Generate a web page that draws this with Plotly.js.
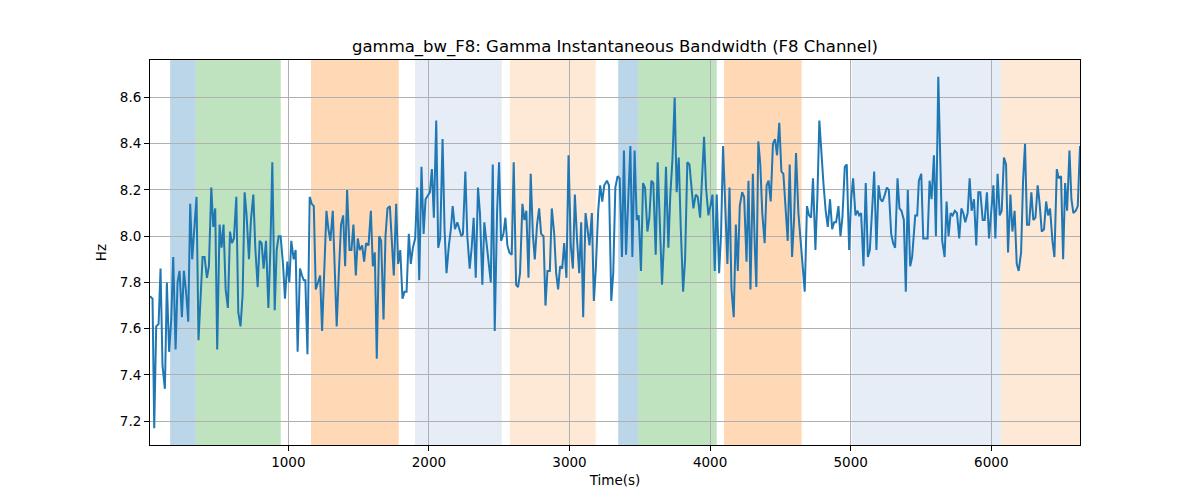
<!DOCTYPE html>
<html>
<head>
<meta charset="utf-8">
<script src="https://cdn.plot.ly/plotly-3.0.1.min.js"></script>
<style>
  body { margin: 0; background: #fff; }
  #chart { width: 1200px; height: 500px; }
</style>
</head>
<body>
<div id="chart"></div>
<script>
// sample times (s) and gamma bandwidth (Hz)
var times = [
  16, 34, 46, 60, 77, 91, 105, 122, 136, 152, 167, 181, 198, 212, 226, 243, 257, 274, 288, 302,
  316, 333, 347, 361, 376, 390, 404, 421, 435, 452, 466, 480, 494, 511, 525, 539, 554, 570, 585, 599,
  613, 630, 644, 660, 675, 689, 703, 720, 734, 751, 765, 782, 796, 810, 824, 841, 858, 872, 886, 903,
  917, 931, 945, 962, 976, 993, 1007, 1021, 1038, 1052, 1066, 1083, 1097, 1110, 1121, 1136, 1152, 1166, 1181, 1195,
  1211, 1226, 1240, 1257, 1271, 1285, 1299, 1316, 1330, 1344, 1359, 1375, 1390, 1404, 1418, 1435, 1449, 1463, 1480, 1494,
  1508, 1525, 1539, 1553, 1570, 1587, 1601, 1615, 1629, 1646, 1660, 1677, 1691, 1705, 1722, 1736, 1750, 1767, 1781, 1796,
  1812, 1826, 1841, 1857, 1871, 1886, 1902, 1917, 1931, 1947, 1962, 1976, 1993, 2007, 2021, 2035, 2052, 2066, 2080, 2097,
  2111, 2125, 2142, 2156, 2169, 2185, 2202, 2216, 2231, 2242, 2259, 2273, 2290, 2304, 2318, 2333, 2349, 2363, 2380, 2394,
  2409, 2425, 2440, 2454, 2468, 2485, 2499, 2513, 2530, 2544, 2558, 2572, 2589, 2603, 2620, 2634, 2648, 2665, 2679, 2693,
  2708, 2724, 2739, 2753, 2769, 2784, 2798, 2815, 2829, 2843, 2860, 2874, 2891, 2905, 2919, 2933, 2948, 2962, 2978, 2993,
  3009, 3024, 3038, 3054, 3069, 3083, 3097, 3114, 3128, 3142, 3159, 3173, 3187, 3204, 3218, 3233, 3247, 3266, 3281, 3297,
  3311, 3326, 3342, 3357, 3373, 3387, 3402, 3418, 3433, 3447, 3463, 3478, 3492, 3508, 3523, 3537, 3554, 3568, 3582, 3596,
  3613, 3627, 3641, 3658, 3672, 3686, 3703, 3717, 3732, 3748, 3762, 3777, 3791, 3808, 3822, 3838, 3853, 3867, 3881, 3898,
  3912, 3929, 3943, 3957, 3971, 3988, 4002, 4017, 4033, 4047, 4064, 4078, 4092, 4109, 4123, 4138, 4152, 4168, 4183, 4197,
  4211, 4228, 4242, 4259, 4273, 4287, 4304, 4318, 4329, 4343, 4357, 4371, 4388, 4402, 4416, 4431, 4447, 4462, 4476, 4492,
  4507, 4521, 4538, 4552, 4566, 4583, 4597, 4611, 4628, 4644, 4659, 4673, 4689, 4704, 4718, 4732, 4749, 4763, 4777, 4792,
  4806, 4822, 4837, 4853, 4868, 4882, 4896, 4913, 4927, 4941, 4958, 4972, 4989, 5003, 5017, 5034, 5048, 5060, 5074, 5091,
  5107, 5122, 5136, 5152, 5167, 5183, 5198, 5212, 5226, 5243, 5257, 5271, 5288, 5302, 5316, 5333, 5347, 5361, 5378, 5392,
  5406, 5423, 5437, 5459, 5473, 5485, 5502, 5516, 5530, 5547, 5561, 5575, 5592, 5606, 5623, 5637, 5651, 5668, 5682, 5696,
  5711, 5725, 5741, 5756, 5772, 5787, 5801, 5815, 5832, 5846, 5860, 5877, 5893, 5908, 5922, 5939, 5953, 5969, 5984, 6000,
  6015, 6029, 6045, 6060, 6074, 6090, 6105, 6119, 6136, 6150, 6166, 6181, 6195, 6212, 6226, 6240, 6254, 6269, 6285, 6299,
  6314, 6330, 6344, 6359, 6375, 6390, 6404, 6418, 6435, 6449, 6466, 6480, 6496, 6511, 6525, 6539, 6556, 6570, 6584, 6601,
  6615, 6631
];
var bandwidth = [
  7.74, 7.73, 7.17, 7.61, 7.62, 7.86, 7.44, 7.34, 7.80, 7.50, 7.64, 7.91, 7.51, 7.80, 7.85, 7.65, 7.85, 7.75, 7.63, 8.14,
  7.90, 8.03, 8.17, 7.55, 7.75, 7.91, 7.91, 7.82, 7.87, 8.21, 8.04, 8.12, 7.51, 8.05, 7.95, 8.05, 7.77, 7.69, 8.02, 7.97,
  7.99, 8.17, 7.67, 7.61, 7.75, 8.19, 8.09, 7.90, 8.07, 8.18, 7.95, 7.78, 7.98, 7.97, 7.86, 7.98, 7.69, 7.94, 8.32, 7.68,
  7.94, 8.00, 8.00, 7.88, 7.73, 7.89, 7.80, 7.98, 7.90, 7.94, 7.50, 7.86, 7.83, 7.81, 7.81, 7.49, 8.17, 8.14, 8.13, 7.77,
  7.80, 7.83, 7.59, 7.84, 8.11, 8.03, 7.98, 8.11, 7.84, 7.61, 7.84, 8.05, 8.09, 7.87, 8.20, 7.94, 7.94, 8.05, 7.83, 7.99,
  7.94, 7.96, 7.89, 7.97, 7.96, 8.11, 7.87, 7.93, 7.47, 8.00, 7.98, 7.64, 8.00, 8.12, 8.13, 8.00, 7.83, 8.14, 7.88, 7.94,
  7.73, 7.76, 7.76, 8.01, 7.88, 7.95, 7.99, 8.21, 7.81, 8.30, 8.01, 8.16, 8.18, 8.19, 8.29, 8.08, 8.50, 7.95, 7.99, 8.42,
  8.03, 7.84, 7.96, 8.03, 8.13, 8.03, 8.06, 8.03, 8.00, 8.01, 8.28, 8.00, 7.86, 7.95, 8.08, 7.82, 8.21, 8.10, 7.79, 8.06,
  7.98, 7.87, 7.80, 8.31, 7.59, 8.11, 8.32, 7.98, 8.01, 8.08, 7.96, 7.93, 7.92, 8.32, 7.79, 7.78, 7.84, 8.14, 8.07, 8.11,
  7.82, 8.27, 8.01, 7.90, 8.05, 8.12, 8.01, 8.00, 7.70, 7.85, 7.85, 8.12, 8.01, 7.84, 7.77, 7.87, 7.86, 7.97, 7.82, 8.35,
  7.96, 7.86, 8.18, 7.98, 7.84, 8.06, 7.65, 8.10, 8.03, 7.96, 8.10, 7.72, 7.86, 8.11, 8.22, 8.15, 8.22, 8.24, 8.22, 7.72,
  7.84, 8.21, 8.26, 8.25, 7.91, 8.37, 7.92, 8.21, 8.39, 7.91, 8.37, 8.07, 8.09, 7.85, 8.23, 8.21, 8.02, 8.08, 8.24, 8.23,
  7.92, 8.32, 8.11, 7.79, 7.98, 8.30, 7.95, 8.18, 8.33, 8.60, 8.19, 8.34, 8.04, 7.76, 7.90, 8.32, 8.31, 8.20, 8.12, 8.18,
  8.17, 8.08, 8.27, 8.43, 8.21, 8.09, 8.13, 8.18, 7.85, 8.18, 7.84, 8.01, 8.39, 8.08, 7.88, 8.21, 7.77, 7.65, 8.05, 7.85,
  8.13, 8.19, 8.17, 7.89, 8.24, 7.77, 8.27, 7.95, 7.78, 8.41, 8.31, 8.10, 7.97, 8.22, 8.24, 8.15, 8.40, 8.42, 8.35, 8.49,
  8.28, 8.27, 8.10, 7.98, 8.31, 7.91, 8.07, 8.36, 8.10, 7.98, 7.87, 7.76, 8.13, 8.09, 8.08, 8.25, 7.94, 8.17, 8.50, 8.34,
  8.23, 8.11, 8.04, 8.16, 8.03, 8.06, 8.06, 8.13, 8.00, 8.08, 8.30, 8.31, 7.94, 8.16, 8.25, 8.09, 8.11, 8.09, 8.10, 7.87,
  8.23, 7.91, 7.94, 8.11, 8.28, 7.94, 8.22, 8.16, 8.15, 8.18, 8.21, 8.20, 8.01, 7.97, 7.95, 8.25, 8.12, 8.11, 8.07, 7.76,
  8.20, 7.87, 7.91, 8.09, 8.09, 8.24, 8.27, 7.99, 7.99, 7.99, 8.24, 8.16, 8.35, 8.00, 8.69, 8.33, 7.98, 7.91, 8.15, 8.00,
  8.10, 8.09, 8.11, 8.10, 7.99, 8.12, 8.10, 8.06, 8.10, 8.25, 8.11, 8.16, 7.96, 8.19, 8.19, 8.07, 8.07, 8.19, 7.99, 8.11,
  8.22, 7.99, 8.27, 8.09, 8.11, 8.34, 8.31, 7.93, 8.18, 8.02, 8.11, 7.88, 7.85, 7.93, 8.24, 8.40, 8.05, 8.05, 8.19, 8.07,
  8.08, 8.22, 8.14, 8.02, 8.03, 8.15, 8.09, 8.12, 7.98, 7.91, 8.29, 8.25, 8.26, 7.90, 8.23, 8.11, 8.37, 8.16, 8.10, 8.11,
  8.13, 8.39
];

// shaded phases
var spanStart = [159, 341, 1161, 1901, 2576, 3346, 3489, 4099, 5007, 6071];
var spanEnd   = [341, 946, 1785, 2518, 3186, 3489, 4047, 4651, 6071, 6640];
var spanKind  = ['blue', 'green', 'orange', 'lightblue', 'lightorange',
                 'blue', 'green', 'orange', 'lightblue', 'lightorange'];

var spanColor = {
    blue: 'rgba(31,119,180,0.3)',
    green: 'rgba(44,160,44,0.3)',
    orange: 'rgba(255,127,14,0.3)',
    lightblue: 'rgb(230,237,247)',
    lightorange: 'rgb(254,232,214)'
};

var shapes = [];
for (var i = 0; i < spanStart.length; i++) {
    shapes.push({
        type: 'rect', xref: 'x', yref: 'paper',
        x0: spanStart[i], x1: spanEnd[i], y0: 0, y1: 1,
        fillcolor: spanColor[spanKind[i]],
        line: {width: 0},
        layer: 'below'
    });
}

var data = [
    {
        x: times,
        y: bandwidth,
        type: 'scatter',
        mode: 'lines',
        line: {color: '#1f77b4', width: 2},
        hoverinfo: 'x+y'
    }
];

var axisStyle = {
    showline: true, mirror: true, linecolor: '#000', linewidth: 1,
    ticks: 'outside', ticklen: 5, tickcolor: '#000', tickwidth: 1,
    showgrid: true, gridcolor: '#b0b0b0', gridwidth: 1,
    zeroline: false,
    tickfont: {family: 'DejaVu Sans', size: 13.5, color: '#000'}
};

var layout = {
    width: 1200, height: 500,
    margin: {l: 150, r: 120, t: 60, b: 55},
    paper_bgcolor: '#fff', plot_bgcolor: '#fff',
    showlegend: false,
    font: {family: 'DejaVu Sans', color: '#000'},
    title: {
        text: 'gamma_bw_F8: Gamma Instantaneous Bandwidth (F8 Channel)',
        font: {family: 'DejaVu Sans', size: 16.5, color: '#000'},
        x: 0.5, xref: 'paper', xanchor: 'center',
        y: 0.908, yref: 'container', yanchor: 'middle'
    },
    xaxis: Object.assign({}, axisStyle, {
        range: [16, 6631],
        tickvals: [1000, 2000, 3000, 4000, 5000, 6000],
        title: {text: 'Time(s)', font: {family: 'DejaVu Sans', size: 13.5}, standoff: 6}
    }),
    yaxis: Object.assign({}, axisStyle, {
        range: [7.097, 8.762],
        tickvals: [7.2, 7.4, 7.6, 7.8, 8.0, 8.2, 8.4, 8.6],
        ticktext: ['7.2', '7.4', '7.6', '7.8', '8.0', '8.2', '8.4', '8.6'],
        title: {text: 'Hz', font: {family: 'DejaVu Sans', size: 13.5}, standoff: 10}
    }),
    shapes: shapes
};

Plotly.newPlot('chart', data, layout, {displayModeBar: false, staticPlot: true});
</script>
</body>
</html>
